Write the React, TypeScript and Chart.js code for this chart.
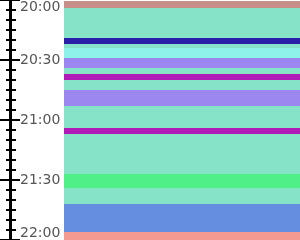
import React, { useEffect, useRef } from "react";
import { Chart, registerables } from "chart.js";

Chart.register(...registerables);

// ---- data ----
const startTime = "20:00";
const tickLabels = ["20:00", "20:30", "21:00", "21:30", "22:00"];
const segStart = ["20:00", "20:04", "20:19", "20:22", "20:24", "20:29", "20:34", "20:37", "20:40", "20:45", "20:53", "21:04", "21:07", "21:27", "21:34", "21:42", "21:56"];
const segEnd = ["20:04", "20:19", "20:22", "20:24", "20:29", "20:34", "20:37", "20:40", "20:45", "20:53", "21:04", "21:07", "21:27", "21:34", "21:42", "21:56", "22:00"];
const segColor = ["#c88f89", "#87e3c8", "#2a1fa8", "#87e3c8", "#8ef2ea", "#9c86f0", "#87e3c8", "#b11cb8", "#87e3c8", "#9c86f0", "#87e3c8", "#b11cb8", "#87e3c8", "#50ef88", "#87e3c8", "#658ee0", "#f49a90"];

const toMin = (t: string) => {
  const [h, m] = t.split(":").map(Number);
  const [h0, m0] = startTime.split(":").map(Number);
  return h * 60 + m - (h0 * 60 + m0);
};
const spanMin = toMin(tickLabels[tickLabels.length - 1]);
const labelStep = spanMin / (tickLabels.length - 1);

const FONT = { family: "'DejaVu Sans', sans-serif", size: 14 };
const LABEL_COLOR = "#555";

const fitTo = (w: number) => (scale: any) => {
  scale.width = w;
  scale.paddingTop = 0;
  scale.paddingBottom = 0;
  scale.paddingLeft = 0;
  scale.paddingRight = 0;
};

const baseY = {
  type: "linear" as const,
  position: "left" as const,
  min: 0,
  max: spanMin,
  reverse: true,
};

const labelAxis = (weight: number, step: number, align: string, show: (v: number) => boolean) => ({
  ...baseY,
  weight,
  afterFit: fitTo(0),
  grid: { display: false, drawTicks: false, drawOnChartArea: false },
  border: { display: false },
  ticks: {
    stepSize: step,
    autoSkip: false,
    maxTicksLimit: 100,
    mirror: true,
    padding: 20,
    align,
    color: LABEL_COLOR,
    font: FONT,
    callback: (v: any) => (show(Number(v)) ? tickLabels[Math.round(Number(v) / labelStep)] : ""),
  },
});

export default function App() {
  const ref = useRef<HTMLCanvasElement | null>(null);
  useEffect(() => {
    if (!ref.current) return;
    const chart = new Chart(ref.current, {
      type: "bar",
      data: {
        labels: ["T"],
        datasets: [
          {
            data: segStart.map((s, i) => ({ x: "T", y: [toMin(s), toMin(segEnd[i])] })) as any,
            backgroundColor: segColor,
            borderWidth: 0,
            inflateAmount: 0,
            barPercentage: 1,
            categoryPercentage: 1,
            yAxisID: "y",
          } as any,
        ],
      },
      options: {
        responsive: false,
        animation: false,
        layout: { padding: 0 },
        plugins: { legend: { display: false }, tooltip: { enabled: false } },
        scales: {
          x: { display: false },
          lMid: labelAxis(10, labelStep, "center", (v) => v > 0 && v < spanMin),
          lTop: labelAxis(11, spanMin, "start", (v) => v === 0),
          lBot: labelAxis(12, spanMin, "end", (v) => v === spanMin),
          ruler: {
            ...baseY,
            weight: 5,
            afterFit: fitTo(10),
            grid: { display: false, drawTicks: false, drawOnChartArea: false },
            ticks: { display: false },
            border: { display: true, width: 3, color: "#000" },
          },
          y: {
            ...baseY,
            weight: 1,
            afterFit: fitTo(54),
            border: { display: false },
            ticks: { display: false, stepSize: 5, maxTicksLimit: 100, autoSkip: false },
            grid: {
              display: true,
              drawOnChartArea: false,
              drawTicks: true,
              tickLength: 64,
              lineWidth: 2,
              tickWidth: 2,
              tickColor: "#000",
              color: "#000",
              tickBorderDash: (c: any) => (c.tick && c.tick.value % 30 === 0 ? [20, 300] : [10, 300]),
              tickBorderDashOffset: (c: any) => (c.tick && c.tick.value % 30 === 0 ? 0 : 304),
            },
          },
        } as any,
      },
    });
    return () => chart.destroy();
  }, []);
  return (
    <div style={{ position: "fixed", left: 0, top: 0, width: 300, height: 240 }}>
      <canvas ref={ref} width={300} height={240} />
    </div>
  );
}
